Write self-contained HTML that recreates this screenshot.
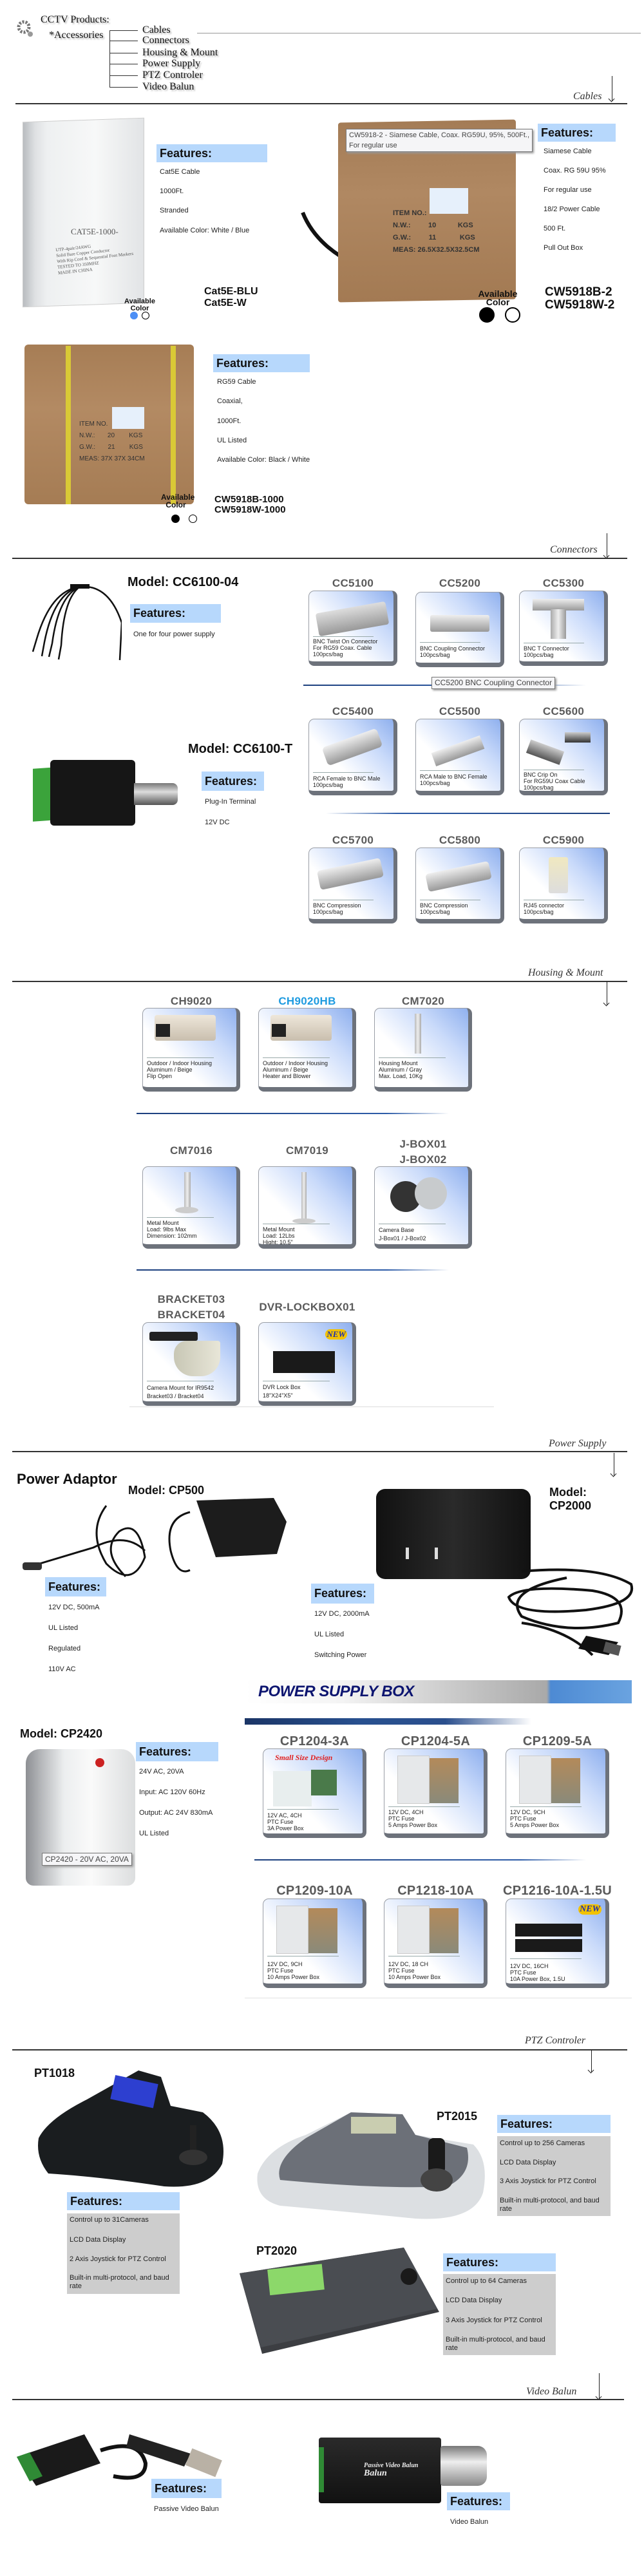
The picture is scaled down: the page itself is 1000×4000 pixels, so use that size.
<!DOCTYPE html>
<html><head><meta charset="utf-8">
<style>
*{margin:0;padding:0;box-sizing:border-box}
body{width:1000px;height:4000px;background:#fff;position:relative;overflow:hidden;font-family:"Liberation Sans",sans-serif;color:#111}
.a{position:absolute}
.menu{position:absolute;font:16px "Liberation Serif",serif;color:#111;text-shadow:2px 2px 2px #aaa;line-height:16px}
.sec{position:absolute;font:italic 16px "Liberation Serif",serif;color:#333;line-height:16px}
.thick{position:absolute;height:2px;background:#333}
.arr{position:absolute;width:1px;background:#222}
.arr:after{content:"";position:absolute;left:-4px;bottom:0;width:6px;height:6px;border-right:1px solid #222;border-bottom:1px solid #222;transform:rotate(45deg);transform-origin:center}
.fb{position:absolute;background:#b7d8fc;font:bold 18px "Liberation Sans",sans-serif;padding-left:5px;color:#111}
.fi{position:absolute;font:11px "Liberation Sans",sans-serif;color:#222;line-height:13px}
.mdl{position:absolute;font:bold 18px "Liberation Sans",sans-serif;color:#111;line-height:20px}
.tile{position:absolute;border-radius:9px;background:linear-gradient(225deg,#8fb0ee 0%,#c9dafa 30%,#fff 65%);border:1px solid #9a9ea6;border-right:6px solid #6d727b;border-bottom:7px solid #6d727b;overflow:hidden}
.tile .ln{position:absolute;left:6px;width:72%;height:1px;background:#9aa}
.tile .cap{position:absolute;left:6px;font:9px "Liberation Sans",sans-serif;color:#222;line-height:10px}
.tt{position:absolute;font:bold 17px "Liberation Sans",sans-serif;color:#5a5a5a;text-align:center;line-height:20px;letter-spacing:.3px}
.img{position:absolute}
.grey{position:absolute;background:#cdcdcd}
.tip{position:absolute;background:#f5f5f7;border:1px solid #777;box-shadow:2px 2px 3px #999;font:11px "Liberation Sans",sans-serif;color:#444;padding:1px 4px;line-height:16px;white-space:nowrap}
.av{position:absolute;font:bold 11px "Liberation Sans",sans-serif;text-align:center;line-height:11px}
.dot{position:absolute;border-radius:50%;border:1.5px solid #000}
</style></head><body>

<!-- header -->
<svg class="a" style="left:24px;top:30px" width="30" height="30" viewBox="0 0 30 30"><circle cx="13" cy="12" r="8" fill="none" stroke="#777" stroke-width="5" stroke-dasharray="3 2"/><circle cx="13" cy="12" r="3" fill="#fff"/><circle cx="23" cy="23" r="4" fill="#999"/></svg>
<div class="menu" style="left:63px;top:23px">CCTV Products:</div>
<div class="menu" style="left:76px;top:47px">*Accessories</div>
<div class="a" style="left:170px;top:47px;width:1px;height:88px;background:#333"></div>
<div class="a" style="left:170px;top:47px;width:44px;height:1px;background:#333"></div>
<div class="a" style="left:170px;top:63px;width:44px;height:1px;background:#333"></div>
<div class="a" style="left:170px;top:82px;width:44px;height:1px;background:#333"></div>
<div class="a" style="left:170px;top:99px;width:44px;height:1px;background:#333"></div>
<div class="a" style="left:170px;top:117px;width:44px;height:1px;background:#333"></div>
<div class="a" style="left:170px;top:135px;width:44px;height:1px;background:#333"></div>
<div class="menu" style="left:221px;top:39px">Cables</div>
<div class="menu" style="left:221px;top:55px">Connectors</div>
<div class="menu" style="left:221px;top:74px">Housing &amp; Mount</div>
<div class="menu" style="left:221px;top:91px">Power Supply</div>
<div class="menu" style="left:221px;top:109px">PTZ Controler</div>
<div class="menu" style="left:221px;top:127px">Video Balun</div>
<div class="a" style="left:306px;top:51px;width:689px;height:1px;background:#999"></div>

<div class="sec" style="left:890px;top:142px">Cables</div>
<div class="arr" style="left:950px;top:118px;height:39px"></div>
<div class="thick" style="left:24px;top:160px;width:950px"></div>

<!-- Cat5E -->
<div class="img" style="left:35px;top:186px;width:189px;height:288px;background:linear-gradient(90deg,#b9bcc0 0%,#dfe1e3 10%,#eef0f1 20%,#f7f8f8 60%,#e2e4e6 100%);transform:skewY(-2deg);border:1px solid #ccc"></div>
<div class="a" style="left:110px;top:352px;font:13px 'Liberation Serif',serif;color:#555">CAT5E-1000-</div>
<div class="a" style="left:88px;top:378px;font:7px 'Liberation Serif',serif;color:#555;line-height:9px;transform:rotate(-6deg)">UTP-4pair/24AWG<br>Solid Bare Copper Conductor<br>With Rip Cord &amp; Sequential Foot Markers<br>TESTED TO 350MHZ<br>MADE IN CHINA</div>
<div class="fb" style="left:243px;top:224px;width:172px;height:28px;line-height:28px">Features:</div>
<div class="fi" style="left:248px;top:261px">Cat5E Cable</div>
<div class="fi" style="left:248px;top:291px">1000Ft.</div>
<div class="fi" style="left:248px;top:321px">Stranded</div>
<div class="fi" style="left:248px;top:352px">Available Color: White / Blue</div>
<div class="mdl" style="left:317px;top:444px;font-size:16px;line-height:18px">Cat5E-BLU<br>Cat5E-W</div>
<div class="av" style="left:190px;top:463px;width:54px">Available<br>Color</div>
<div class="dot" style="left:202px;top:484px;width:12px;height:12px;background:#4c8ff5;border-color:#4c8ff5"></div>
<div class="dot" style="left:220px;top:484px;width:12px;height:12px"></div>

<!-- CW5918-2 -->
<svg class="a" style="left:460px;top:320px" width="110" height="100"><path d="M10 10 Q30 60 90 90" stroke="#111" stroke-width="6" fill="none"/></svg>
<div class="img" style="left:525px;top:188px;width:276px;height:279px;background:linear-gradient(180deg,#a47c56,#b08862 40%,#a37a53);border-radius:4px;transform:skewY(-1deg)"></div>
<div class="a" style="left:667px;top:292px;width:60px;height:40px;background:#e6f0fb"></div>
<div class="a" style="left:610px;top:322px;font:bold 11px 'Liberation Sans';color:#333;line-height:19px">ITEM NO.:<br>N.W.: &nbsp;&nbsp;&nbsp;&nbsp;&nbsp;&nbsp;&nbsp;&nbsp;10 &nbsp;&nbsp;&nbsp;&nbsp;&nbsp;&nbsp;&nbsp;&nbsp;&nbsp;&nbsp;KGS<br>G.W.: &nbsp;&nbsp;&nbsp;&nbsp;&nbsp;&nbsp;&nbsp;&nbsp;11 &nbsp;&nbsp;&nbsp;&nbsp;&nbsp;&nbsp;&nbsp;&nbsp;&nbsp;&nbsp;&nbsp;KGS<br>MEAS: 26.5X32.5X32.5CM</div>
<div class="tip" style="left:537px;top:200px;height:36px">CW5918-2 - Siamese Cable, Coax. RG59U, 95%, 500Ft.,<br>For regular use</div>
<div class="fb" style="left:835px;top:192px;width:121px;height:28px;line-height:28px">Features:</div>
<div class="fi" style="left:844px;top:229px">Siamese Cable</div>
<div class="fi" style="left:844px;top:259px">Coax. RG 59U 95%</div>
<div class="fi" style="left:844px;top:289px">For regular use</div>
<div class="fi" style="left:844px;top:319px">18/2 Power Cable</div>
<div class="fi" style="left:844px;top:349px">500 Ft.</div>
<div class="fi" style="left:844px;top:379px">Pull Out Box</div>
<div class="mdl" style="left:846px;top:444px;font-size:19px;line-height:20px">CW5918B-2<br>CW5918W-2</div>
<div class="av" style="left:738px;top:450px;width:70px;font-size:14px;line-height:13px">Available<br>Color</div>
<div class="dot" style="left:744px;top:477px;width:24px;height:24px;background:#000"></div>
<div class="dot" style="left:784px;top:477px;width:24px;height:24px;border-width:2px"></div>

<!-- CW5918-1000 -->
<div class="img" style="left:38px;top:535px;width:263px;height:248px;background:linear-gradient(180deg,#a67d55,#b38a63 40%,#a57c54);border-radius:6px"></div>
<div class="a" style="left:102px;top:537px;width:8px;height:246px;background:#d9c936"></div>
<div class="a" style="left:265px;top:537px;width:8px;height:246px;background:#d9c936"></div>
<div class="a" style="left:174px;top:632px;width:50px;height:34px;background:#e6f0fb"></div>
<div class="a" style="left:123px;top:650px;font:10px 'Liberation Sans';color:#333;line-height:18px">ITEM NO.<br>N.W.: &nbsp;&nbsp;&nbsp;&nbsp;&nbsp;&nbsp;20 &nbsp;&nbsp;&nbsp;&nbsp;&nbsp;&nbsp;&nbsp;KGS<br>G.W.: &nbsp;&nbsp;&nbsp;&nbsp;&nbsp;&nbsp;21 &nbsp;&nbsp;&nbsp;&nbsp;&nbsp;&nbsp;&nbsp;KGS<br>MEAS: 37X 37X 34CM</div>
<div class="fb" style="left:331px;top:550px;width:150px;height:28px;line-height:28px">Features:</div>
<div class="fi" style="left:337px;top:587px">RG59 Cable</div>
<div class="fi" style="left:337px;top:617px">Coaxial,</div>
<div class="fi" style="left:337px;top:648px">1000Ft.</div>
<div class="fi" style="left:337px;top:678px">UL Listed</div>
<div class="fi" style="left:337px;top:708px">Available Color: Black / White</div>
<div class="mdl" style="left:333px;top:768px;font-size:15px;line-height:16px">CW5918B-1000<br>CW5918W-1000</div>
<div class="av" style="left:250px;top:766px;width:46px;font-size:12px;line-height:12px">Available<br>Color</div>
<div class="dot" style="left:266px;top:799px;width:13px;height:13px;background:#000"></div>
<div class="dot" style="left:293px;top:799px;width:13px;height:13px"></div>

<!-- Connectors -->
<div class="sec" style="left:854px;top:846px">Connectors</div>
<div class="arr" style="left:942px;top:828px;height:38px"></div>
<div class="thick" style="left:19px;top:866px;width:955px"></div>

<svg class="a" style="left:29px;top:907px" width="160" height="128"><g stroke="#111" stroke-width="2.5" fill="none"><path d="M95 4 Q140 0 160 60 L157 118"/><path d="M95 4 Q50 10 28 85 L22 105"/><path d="M95 4 Q55 14 40 90 L36 112"/><path d="M95 4 Q62 18 52 92 L47 113"/><path d="M95 4 Q70 22 66 95 L62 117"/></g><rect x="80" y="0" width="30" height="7" fill="#111"/></svg>
<div class="mdl" style="left:198px;top:893px;font-size:20px;line-height:22px">Model: CC6100-04</div>
<div class="fb" style="left:202px;top:938px;width:141px;height:29px;line-height:29px">Features:</div>
<div class="fi" style="left:207px;top:979px">One for four power supply</div>

<div class="tt" style="left:479px;top:896px;width:138px">CC5100</div>
<div class="tt" style="left:645px;top:896px;width:138px">CC5200</div>
<div class="tt" style="left:806px;top:896px;width:138px">CC5300</div>
<div class="tile" style="left:479px;top:917px;width:138px;height:117px"><div class="a" style="left:12px;top:25px;width:110px;height:36px;background:linear-gradient(180deg,#ddd,#999);transform:rotate(-10deg);border-radius:4px"></div><div class="ln" style="top:70px"></div><div class="cap" style="top:73px">BNC Twist On Connector<br>For RG59 Coax. Cable<br>100pcs/bag</div></div>
<div class="tile" style="left:645px;top:919px;width:138px;height:117px"><div class="a" style="left:22px;top:35px;width:92px;height:26px;background:linear-gradient(180deg,#eee,#999);border-radius:3px"></div><div class="ln" style="top:77px"></div><div class="cap" style="top:82px">BNC Coupling Connector<br>100pcs/bag</div></div>
<div class="tile" style="left:806px;top:917px;width:138px;height:117px"><div class="a" style="left:20px;top:12px;width:80px;height:18px;background:linear-gradient(180deg,#eee,#999)"></div><div class="a" style="left:48px;top:28px;width:24px;height:46px;background:linear-gradient(90deg,#aaa,#eee,#999)"></div><div class="ln" style="top:80px"></div><div class="cap" style="top:84px">BNC T Connector<br>100pcs/bag</div></div>

<div class="a" style="left:471px;top:1063px;width:439px;height:2px;background:linear-gradient(90deg,#1c3f7d,#2d5ca8 70%,#fff)"></div>
<div class="tip" style="left:670px;top:1051px;height:19px;line-height:15px;font-size:12px">CC5200 BNC Coupling Connector</div>

<div class="tt" style="left:479px;top:1095px;width:138px">CC5400</div>
<div class="tt" style="left:645px;top:1095px;width:138px">CC5500</div>
<div class="tt" style="left:806px;top:1095px;width:138px">CC5600</div>
<div class="tile" style="left:479px;top:1116px;width:138px;height:119px"><div class="a" style="left:22px;top:28px;width:90px;height:30px;background:linear-gradient(180deg,#eee,#999);transform:rotate(-20deg);border-radius:6px"></div><div class="ln" style="top:82px"></div><div class="cap" style="top:87px">RCA Female to BNC Male<br>100pcs/bag</div></div>
<div class="tile" style="left:645px;top:1116px;width:138px;height:119px"><div class="a" style="left:25px;top:38px;width:80px;height:22px;background:linear-gradient(180deg,#eee,#999);transform:rotate(-20deg)"></div><div class="ln" style="top:79px"></div><div class="cap" style="top:84px">RCA Male to BNC Female<br>100pcs/bag</div></div>
<div class="tile" style="left:806px;top:1116px;width:138px;height:119px"><div class="a" style="left:12px;top:40px;width:55px;height:22px;background:linear-gradient(180deg,#ccc,#555);transform:rotate(20deg)"></div><div class="a" style="left:70px;top:20px;width:40px;height:16px;background:linear-gradient(180deg,#ccc,#333)"></div><div class="ln" style="top:78px"></div><div class="cap" style="top:81px">BNC Crip On<br>For RG59U Coax Cable<br>100pcs/bag</div></div>

<div class="a" style="left:506px;top:1262px;width:441px;height:2px;background:linear-gradient(90deg,#fff,#2d5ca8 25%,#1c3f7d)"></div>

<div class="img" style="left:51px;top:1192px;width:50px;height:82px;background:#3ba33b;transform:skewY(-4deg)"></div>
<div class="img" style="left:78px;top:1180px;width:132px;height:102px;background:#161616;border-radius:6px"></div>
<div class="img" style="left:208px;top:1216px;width:68px;height:34px;background:linear-gradient(180deg,#777,#ddd 40%,#555);border-radius:0 8px 8px 0"></div>
<div class="mdl" style="left:292px;top:1152px;font-size:20px;line-height:22px">Model: CC6100-T</div>
<div class="fb" style="left:313px;top:1198px;width:97px;height:30px;line-height:30px">Features:</div>
<div class="fi" style="left:318px;top:1239px">Plug-In Terminal</div>
<div class="fi" style="left:318px;top:1271px">12V DC</div>

<div class="tt" style="left:479px;top:1295px;width:138px">CC5700</div>
<div class="tt" style="left:645px;top:1295px;width:138px">CC5800</div>
<div class="tt" style="left:806px;top:1295px;width:138px">CC5900</div>
<div class="tile" style="left:479px;top:1316px;width:138px;height:118px"><div class="a" style="left:14px;top:25px;width:100px;height:30px;background:linear-gradient(180deg,#eee,#999);transform:rotate(-12deg);border-radius:5px"></div><div class="ln" style="top:80px"></div><div class="cap" style="top:84px">BNC Compression<br>100pcs/bag</div></div>
<div class="tile" style="left:645px;top:1316px;width:138px;height:118px"><div class="a" style="left:16px;top:30px;width:100px;height:28px;background:linear-gradient(180deg,#eee,#999);transform:rotate(-12deg);border-radius:5px"></div><div class="ln" style="top:80px"></div><div class="cap" style="top:84px">BNC Compression<br>100pcs/bag</div></div>
<div class="tile" style="left:806px;top:1316px;width:138px;height:118px"><div class="a" style="left:45px;top:14px;width:30px;height:56px;background:linear-gradient(180deg,#f0e8c0,#ddd);border-radius:3px"></div><div class="ln" style="top:80px"></div><div class="cap" style="top:84px">RJ45 connector<br>100pcs/bag</div></div>

<!-- Housing & Mount -->
<div class="sec" style="left:820px;top:1503px">Housing &amp; Mount</div>
<div class="thick" style="left:19px;top:1523px;width:955px"></div>
<div class="arr" style="left:942px;top:1524px;height:37px"></div>

<div class="tt" style="left:221px;top:1545px;width:152px">CH9020</div>
<div class="tt" style="left:401px;top:1545px;width:152px;color:#1e9be0">CH9020HB</div>
<div class="tt" style="left:581px;top:1545px;width:152px">CM7020</div>
<div class="tile" style="left:221px;top:1565px;width:152px;height:130px"><div class="a" style="left:18px;top:10px;width:95px;height:40px;background:linear-gradient(180deg,#eee7da,#c9bfae);border-radius:4px"></div><div class="a" style="left:20px;top:24px;width:22px;height:20px;background:#222"></div><div class="ln" style="top:76px"></div><div class="cap" style="top:80px">Outdoor / Indoor Housing<br>Aluminum / Beige<br>Flip Open</div></div>
<div class="tile" style="left:401px;top:1565px;width:152px;height:130px"><div class="a" style="left:18px;top:10px;width:95px;height:40px;background:linear-gradient(180deg,#eee7da,#c9bfae);border-radius:4px"></div><div class="a" style="left:20px;top:24px;width:22px;height:20px;background:#222"></div><div class="ln" style="top:76px"></div><div class="cap" style="top:80px">Outdoor / Indoor Housing<br>Aluminum / Beige<br>Heater and Blower</div></div>
<div class="tile" style="left:581px;top:1565px;width:152px;height:130px"><div class="a" style="left:62px;top:8px;width:10px;height:62px;background:linear-gradient(90deg,#bbb,#eee,#aaa)"></div><div class="ln" style="top:76px"></div><div class="cap" style="top:80px">Housing Mount<br>Aluminum / Gray<br>Max. Load, 10Kg</div></div>

<div class="a" style="left:212px;top:1728px;width:485px;height:2px;background:linear-gradient(90deg,#1c3f7d,#2d5ca8 80%,#fff)"></div>

<div class="tt" style="left:221px;top:1777px;width:152px">CM7016</div>
<div class="tt" style="left:401px;top:1777px;width:152px">CM7019</div>
<div class="tt" style="left:581px;top:1765px;width:152px;line-height:24px">J-BOX01<br>J-BOX02</div>
<div class="tile" style="left:221px;top:1811px;width:152px;height:128px"><div class="a" style="left:64px;top:8px;width:10px;height:60px;background:linear-gradient(90deg,#bbb,#eee,#aaa)"></div><div class="a" style="left:50px;top:62px;width:36px;height:10px;border-radius:50%;background:#ccc"></div><div class="ln" style="top:78px"></div><div class="cap" style="top:82px">Metal Mount<br>Load: 9lbs Max<br>Dimension: 102mm</div></div>
<div class="tile" style="left:401px;top:1811px;width:152px;height:128px"><div class="a" style="left:66px;top:8px;width:8px;height:76px;background:linear-gradient(90deg,#bbb,#eee,#aaa)"></div><div class="a" style="left:52px;top:80px;width:36px;height:8px;border-radius:50%;background:#ccc"></div><div class="ln" style="top:88px"></div><div class="cap" style="top:92px">Metal Mount<br>Load: 12Lbs<br>Hight: 10.5"</div></div>
<div class="tile" style="left:581px;top:1811px;width:152px;height:128px"><div class="a" style="left:24px;top:22px;width:48px;height:48px;border-radius:50%;background:#333"></div><div class="a" style="left:62px;top:16px;width:50px;height:50px;border-radius:50%;background:#c8cbcd"></div><div class="ln" style="top:88px"></div><div class="cap" style="top:92px;line-height:13px">Camera Base<br>J-Box01 / J-Box02</div></div>

<div class="a" style="left:212px;top:1971px;width:485px;height:2px;background:linear-gradient(90deg,#1c3f7d,#2d5ca8 80%,#fff)"></div>

<div class="tt" style="left:221px;top:2006px;width:152px;line-height:24px">BRACKET03<br>BRACKET04</div>
<div class="tt" style="left:391px;top:2020px;width:172px">DVR-LOCKBOX01</div>
<div class="tile" style="left:221px;top:2053px;width:152px;height:130px"><div class="a" style="left:10px;top:14px;width:75px;height:14px;background:#222;border-radius:3px"></div><div class="a" style="left:48px;top:28px;width:72px;height:55px;background:linear-gradient(90deg,#c8c7b5,#e8e6d8);border-radius:20px 4px 30px 30px"></div><div class="ln" style="top:90px"></div><div class="cap" style="top:95px;line-height:13px">Camera Mount for IR9542<br>Bracket03 / Bracket04</div></div>
<div class="tile" style="left:401px;top:2053px;width:152px;height:130px"><div class="a" style="right:8px;top:10px;font:bold italic 13px 'Liberation Serif';color:#1e2fb0;background:#f2c200;border-radius:8px;padding:0 2px">NEW</div><div class="a" style="left:22px;top:44px;width:96px;height:34px;background:#1a1a1a"></div><div class="ln" style="top:90px"></div><div class="cap" style="top:94px;line-height:13px">DVR Lock Box<br>18"X24"X5"</div></div>
<div class="a" style="left:201px;top:2184px;width:566px;height:1px;background:#ddd"></div>

<!-- Power Supply -->
<div class="sec" style="left:852px;top:2234px">Power Supply</div>
<div class="thick" style="left:19px;top:2253px;width:955px"></div>
<div class="arr" style="left:953px;top:2256px;height:36px"></div>

<div class="mdl" style="left:26px;top:2284px;font-size:22px;line-height:26px">Power Adaptor</div>
<div class="mdl" style="left:199px;top:2304px">Model: CP500</div>
<svg class="a" style="left:35px;top:2318px" width="420" height="150"><g stroke="#111" stroke-width="3" fill="none"><path d="M130 20 Q100 60 130 110 Q170 150 190 100 Q180 40 150 60 Q120 90 160 130"/><path d="M10 115 Q60 100 110 85 Q160 60 190 90"/><path d="M260 30 Q220 40 230 90 Q240 130 260 120"/></g><rect x="0" y="108" width="30" height="12" rx="4" fill="#333"/><path d="M270 12 L390 8 L410 45 L395 95 L300 100 Z" fill="#1c1c1c"/></svg>

<div class="mdl" style="left:853px;top:2307px;line-height:21px">Model:<br>CP2000</div>
<div class="img" style="left:584px;top:2312px;width:240px;height:140px;background:linear-gradient(90deg,#111,#2a2a2a 50%,#111);border-radius:14px"></div>
<div class="a" style="left:630px;top:2403px;width:5px;height:18px;background:#ddd"></div>
<div class="a" style="left:675px;top:2403px;width:5px;height:18px;background:#ddd"></div>
<svg class="a" style="left:580px;top:2420px" width="410" height="160"><g stroke="#111" stroke-width="4" fill="none"><path d="M230 20 Q350 10 400 40 Q410 70 330 80 Q220 90 210 60 Q230 40 340 50 Q400 60 380 100 Q300 120 230 90 Q200 50 300 30"/><path d="M230 100 Q300 110 340 150"/></g><path d="M330 120 L380 130 L365 150 L318 140 Z" fill="#111"/><rect x="358" y="132" width="25" height="16" fill="#555" transform="rotate(15 370 140)"/></svg>

<div class="fb" style="left:70px;top:2449px;width:95px;height:30px;line-height:30px">Features:</div>
<div class="fi" style="left:75px;top:2490px">12V DC, 500mA</div>
<div class="fi" style="left:75px;top:2522px">UL Listed</div>
<div class="fi" style="left:75px;top:2554px">Regulated</div>
<div class="fi" style="left:75px;top:2586px">110V AC</div>
<div class="fb" style="left:483px;top:2459px;width:98px;height:31px;line-height:31px">Features:</div>
<div class="fi" style="left:488px;top:2500px">12V DC, 2000mA</div>
<div class="fi" style="left:488px;top:2532px">UL Listed</div>
<div class="fi" style="left:488px;top:2564px">Switching Power</div>

<div class="a" style="left:381px;top:2609px;width:600px;height:36px;background:linear-gradient(90deg,#fff 0%,#f4f4f4 25%,#c8c8c8 55%,#a9a9a9 78%,#4d8ad3 79%,#6aa3e0 100%)"></div>
<div class="a" style="left:401px;top:2612px;font:bold italic 24px 'Liberation Sans';color:#0d1570;line-height:30px;letter-spacing:-0.5px">POWER SUPPLY BOX</div>
<div class="a" style="left:380px;top:2668px;width:445px;height:10px;background:linear-gradient(90deg,#1b3566,#28508f 40%,#2b4f8d 70%,#fff)"></div>

<div class="mdl" style="left:31px;top:2682px">Model: CP2420</div>
<div class="img" style="left:40px;top:2716px;width:170px;height:212px;background:linear-gradient(90deg,#8d8f93,#b8babd 15%,#eceeef 35%,#fafafa 60%,#dcdedf);border-radius:22px 22px 12px 12px"></div>
<div class="a" style="left:148px;top:2730px;width:14px;height:14px;border-radius:50%;background:#c22"></div>
<div class="tip" style="left:65px;top:2877px;height:20px;line-height:16px;font-size:12px">CP2420 - 20V AC, 20VA</div>
<div class="fb" style="left:211px;top:2705px;width:128px;height:30px;line-height:30px">Features:</div>
<div class="fi" style="left:216px;top:2745px">24V AC, 20VA</div>
<div class="fi" style="left:216px;top:2777px">Input: AC 120V 60Hz</div>
<div class="fi" style="left:216px;top:2809px">Output: AC 24V 830mA</div>
<div class="fi" style="left:216px;top:2841px">UL Listed</div>

<div class="tt" style="left:408px;top:2694px;width:161px;font-size:20px">CP1204-3A</div>
<div class="tt" style="left:596px;top:2694px;width:161px;font-size:20px">CP1204-5A</div>
<div class="tt" style="left:785px;top:2694px;width:161px;font-size:20px">CP1209-5A</div>
<div class="tile" style="left:408px;top:2715px;width:161px;height:139px"><div class="a" style="left:18px;top:6px;font:bold italic 12px 'Liberation Serif';color:#e02020">Small Size Design</div><div class="a" style="left:15px;top:34px;width:60px;height:55px;background:#e8eeee"></div><div class="a" style="left:74px;top:32px;width:40px;height:40px;background:#4a7a4a"></div><div class="ln" style="top:93px"></div><div class="cap" style="top:98px">12V AC, 4CH<br>PTC Fuse<br>3A Power Box</div></div>
<div class="tile" style="left:596px;top:2715px;width:161px;height:139px"><div class="a" style="left:20px;top:10px;width:50px;height:75px;background:#e6e8ea;border:1px solid #ccc"></div><div class="a" style="left:70px;top:14px;width:45px;height:70px;background:linear-gradient(180deg,#b38a5a,#8a8a7a)"></div><div class="ln" style="top:89px"></div><div class="cap" style="top:93px">12V DC, 4CH<br>PTC Fuse<br>5 Amps Power Box</div></div>
<div class="tile" style="left:785px;top:2715px;width:161px;height:139px"><div class="a" style="left:20px;top:10px;width:50px;height:75px;background:#e6e8ea;border:1px solid #ccc"></div><div class="a" style="left:70px;top:14px;width:45px;height:70px;background:linear-gradient(180deg,#b38a5a,#8a8a7a)"></div><div class="ln" style="top:89px"></div><div class="cap" style="top:93px">12V DC, 9CH<br>PTC Fuse<br>5 Amps Power Box</div></div>

<div class="a" style="left:395px;top:2887px;width:515px;height:2px;background:linear-gradient(90deg,#1c3f7d,#2d5ca8 80%,#fff)"></div>

<div class="tt" style="left:408px;top:2926px;width:161px;font-size:20px">CP1209-10A</div>
<div class="tt" style="left:596px;top:2926px;width:161px;font-size:20px">CP1218-10A</div>
<div class="tt" style="left:770px;top:2926px;width:191px;font-size:20px">CP1216-10A-1.5U</div>
<div class="tile" style="left:408px;top:2948px;width:161px;height:139px"><div class="a" style="left:20px;top:10px;width:50px;height:75px;background:#e6e8ea;border:1px solid #ccc"></div><div class="a" style="left:70px;top:14px;width:45px;height:70px;background:linear-gradient(180deg,#b38a5a,#8a8a7a)"></div><div class="ln" style="top:88px"></div><div class="cap" style="top:96px">12V DC, 9CH<br>PTC Fuse<br>10 Amps Power Box</div></div>
<div class="tile" style="left:596px;top:2948px;width:161px;height:139px"><div class="a" style="left:20px;top:10px;width:50px;height:75px;background:#e6e8ea;border:1px solid #ccc"></div><div class="a" style="left:70px;top:14px;width:45px;height:70px;background:linear-gradient(180deg,#b38a5a,#8a8a7a)"></div><div class="ln" style="top:88px"></div><div class="cap" style="top:96px">12V DC, 18 CH<br>PTC Fuse<br>10 Amps Power Box</div></div>
<div class="tile" style="left:785px;top:2948px;width:161px;height:139px"><div class="a" style="right:6px;top:8px;font:bold italic 14px 'Liberation Serif';color:#1e2fb0;background:#f2c200;border-radius:8px;padding:0 2px">NEW</div><div class="a" style="left:14px;top:38px;width:104px;height:20px;background:#1a1a1a"></div><div class="a" style="left:14px;top:62px;width:104px;height:20px;background:#1a1a1a"></div><div class="ln" style="top:92px"></div><div class="cap" style="top:99px">12V DC, 16CH<br>PTC Fuse<br>10A Power Box, 1.5U</div></div>
<div class="a" style="left:380px;top:3102px;width:601px;height:1px;background:#e2e2e2"></div>

<!-- PTZ -->
<div class="sec" style="left:815px;top:3161px">PTZ Controler</div>
<div class="thick" style="left:19px;top:3182px;width:955px"></div>
<div class="arr" style="left:918px;top:3183px;height:35px"></div>

<div class="mdl" style="left:53px;top:3209px">PT1018</div>
<svg class="a" style="left:55px;top:3210px" width="300" height="192"><path d="M160 5 L195 15 L210 60 L260 70 Q300 100 290 150 Q270 190 200 185 Q100 170 20 165 Q0 140 5 110 Q20 80 80 50 Z" fill="#1a1d1f"/><rect x="120" y="18" width="68" height="38" fill="#2d3fd0" transform="rotate(12 150 35)"/><rect x="240" y="90" width="10" height="55" fill="#222"/><ellipse cx="245" cy="140" rx="22" ry="12" fill="#333"/></svg>
<div class="fb" style="left:104px;top:3404px;width:175px;height:28px;line-height:28px">Features:</div>
<div class="grey" style="left:104px;top:3437px;width:175px;height:125px"></div>
<div class="fi" style="left:108px;top:3441px">Control up to 31Cameras</div>
<div class="fi" style="left:108px;top:3472px">LCD Data Display</div>
<div class="fi" style="left:108px;top:3502px">2 Axis Joystick for PTZ Control</div>
<div class="fi" style="left:108px;top:3531px">Built-in multi-protocol, and baud<br>rate</div>

<div class="mdl" style="left:678px;top:3276px">PT2015</div>
<svg class="a" style="left:395px;top:3275px" width="365" height="175"><path d="M150 5 L230 8 L250 40 L340 55 Q365 80 355 130 Q340 175 250 170 Q150 160 40 150 Q0 140 5 100 Q20 60 80 40 Z" fill="#dcdfe2"/><path d="M150 5 L230 8 L250 40 L330 60 Q340 100 300 120 Q200 125 40 110 Q30 80 80 45 Z" fill="#6c7078"/><rect x="150" y="12" width="70" height="26" fill="#c9cdb0"/><rect x="270" y="45" width="26" height="55" rx="8" fill="#1a1a1a"/><ellipse cx="283" cy="110" rx="25" ry="18" fill="#444"/></svg>
<div class="fb" style="left:772px;top:3284px;width:176px;height:28px;line-height:28px">Features:</div>
<div class="grey" style="left:772px;top:3317px;width:176px;height:124px"></div>
<div class="fi" style="left:776px;top:3322px">Control up to 256 Cameras</div>
<div class="fi" style="left:776px;top:3352px">LCD Data Display</div>
<div class="fi" style="left:776px;top:3381px">3 Axis Joystick for PTZ Control</div>
<div class="fi" style="left:776px;top:3411px">Built-in multi-protocol, and baud<br>rate</div>

<div class="mdl" style="left:398px;top:3485px">PT2020</div>
<svg class="a" style="left:367px;top:3490px" width="316" height="165"><path d="M5 40 L260 0 L315 100 L40 165 Z" fill="#3c3e42"/><path d="M5 40 L260 0 L312 95 L38 155 Z" fill="#4a4d52"/><rect x="50" y="30" width="85" height="40" fill="#8cd86a" transform="rotate(-6 90 50)"/><circle cx="268" cy="45" r="13" fill="#1a1a1a"/></svg>
<div class="fb" style="left:688px;top:3499px;width:175px;height:28px;line-height:28px">Features:</div>
<div class="grey" style="left:688px;top:3531px;width:175px;height:126px"></div>
<div class="fi" style="left:692px;top:3536px">Control up to 64 Cameras</div>
<div class="fi" style="left:692px;top:3566px">LCD Data Display</div>
<div class="fi" style="left:692px;top:3597px">3 Axis Joystick for PTZ Control</div>
<div class="fi" style="left:692px;top:3627px">Built-in multi-protocol, and baud<br>rate</div>

<!-- Video Balun -->
<div class="sec" style="left:817px;top:3706px">Video Balun</div>
<div class="arr" style="left:930px;top:3685px;height:40px"></div>
<div class="thick" style="left:19px;top:3725px;width:950px"></div>

<svg class="a" style="left:26px;top:3765px" width="320" height="105"><path d="M0 50 L105 15 L130 60 L30 95 Z" fill="#1a1a1a"/><path d="M0 50 L20 43 L40 80 L20 88 Z" fill="#2f8a35"/><path d="M130 40 Q190 20 200 60 Q200 90 150 80" stroke="#111" stroke-width="6" fill="none"/><path d="M175 15 L270 45 L260 65 L170 35 Z" fill="#222"/><rect x="265" y="45" width="50" height="28" fill="#b9b1a5" transform="rotate(22 290 60)"/></svg>
<div class="fb" style="left:235px;top:3849px;width:109px;height:30px;line-height:30px">Features:</div>
<div class="fi" style="left:239px;top:3890px">Passive Video Balun</div>

<div class="img" style="left:495px;top:3785px;width:190px;height:102px;background:linear-gradient(180deg,#2a2a2a,#111);border-radius:4px"></div>
<div class="a" style="left:495px;top:3800px;width:8px;height:70px;background:#2f8a35"></div>
<div class="a" style="left:565px;top:3823px;font:bold italic 10px 'Liberation Serif';color:#eee;line-height:12px">Passive Video Balun<br><span style="font-size:14px">Balun</span></div>
<div class="img" style="left:684px;top:3798px;width:72px;height:62px;background:linear-gradient(180deg,#777,#eee 40%,#888);border-radius:4px 14px 14px 4px"></div>
<div class="fb" style="left:694px;top:3870px;width:98px;height:28px;line-height:28px">Features:</div>
<div class="fi" style="left:699px;top:3910px">Video Balun</div>

</body></html>
